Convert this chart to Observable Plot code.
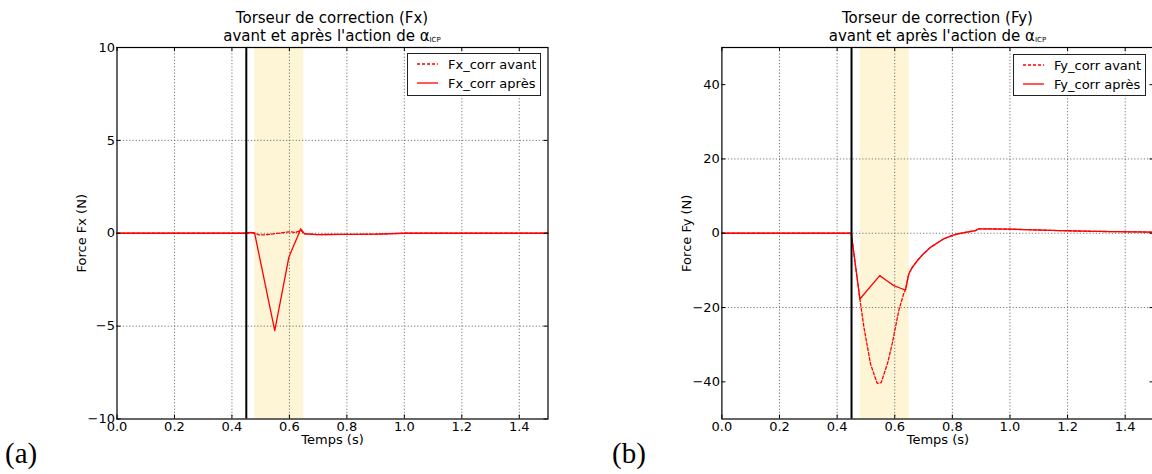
<!DOCTYPE html>
<html><head><meta charset="utf-8">
<script src="https://cdn.jsdelivr.net/npm/d3@7"></script>
<script src="https://cdn.jsdelivr.net/npm/@observablehq/plot@0.6"></script>
<style>
html,body{margin:0;padding:0;overflow:hidden;background:#fff;width:1152px;height:474px;}
#root{position:relative;width:1152px;height:474px;overflow:hidden;font-family:"DejaVu Sans",sans-serif;color:#000;}
.panel{position:absolute;top:0;width:580px;height:474px;}
.plotwrap{position:absolute;left:0;top:40px;}
.title{position:absolute;top:9px;text-align:center;font-size:15px;line-height:18px;white-space:nowrap;}
.title sub{font-size:7px;vertical-align:-1px;}
.legend{position:absolute;box-sizing:border-box;border:1px solid #222;background:#fff;font-size:13px;}
.legend .row{position:absolute;left:0;height:16px;display:flex;align-items:center;white-space:nowrap;}
.legend svg{margin-left:9px;margin-right:10px;}
.tag{position:absolute;font-family:"Liberation Serif","DejaVu Serif",serif;font-size:29px;line-height:30px;}
</style></head>
<body><div id="root"></div>
<script>
// ---- data ----
const xTicks = [0, 0.2, 0.4, 0.6, 0.8, 1.0, 1.2, 1.4];
const xDomain = [0, 1.5];
const shadeStart = 0.48, shadeEnd = 0.65;
const eventTime = 0.45;

// Panel (a): Fx
const fxTicks = [-10, -5, 0, 5, 10];
const fxAvantT = [0, 0.45, 0.47, 0.48, 0.494, 0.52, 0.546, 0.586, 0.605, 0.621, 0.64, 0.653, 0.70, 0.90, 1.0, 1.5];
const fxAvantV = [0, 0, 0.03, 0, -0.09, -0.08, -0.03, 0.05, 0.08, 0.04, 0.15, -0.03, -0.07, -0.05, 0, 0];
const fxApresT = [0, 0.45, 0.465, 0.479, 0.549, 0.575, 0.598, 0.615, 0.628, 0.639, 0.653, 0.70, 0.90, 1.0, 1.5];
const fxApresV = [0, 0, 0.05, 0, -5.24, -3.15, -1.3, -0.66, -0.2, 0.24, -0.03, -0.07, -0.05, 0, 0];

// Panel (b): Fy
const fyTicks = [-40, -20, 0, 20, 40];
const fyAvantT = [0, 0.449, 0.479, 0.493, 0.516, 0.539, 0.553, 0.575, 0.591, 0.614, 0.63, 0.637, 0.649, 0.66, 0.678, 0.70, 0.724, 0.75, 0.77, 0.80, 0.817, 0.85, 0.88, 0.892, 1.0, 1.175, 1.3, 1.5];
const fyAvantV = [0, 0, -17.7, -25.3, -35.2, -40.4, -40.2, -35.0, -29.8, -20.8, -16.5, -15.3, -10.9, -9.3, -7.4, -5.5, -3.8, -2.5, -1.5, -0.6, -0.2, 0.3, 0.7, 1.2, 1.1, 0.7, 0.5, 0.3];
const fyApresT = [0, 0.449, 0.479, 0.548, 0.575, 0.597, 0.62, 0.637, 0.649, 0.66, 0.678, 0.70, 0.724, 0.75, 0.77, 0.80, 0.817, 0.85, 0.88, 0.892, 1.0, 1.175, 1.3, 1.5];
const fyApresV = [0, 0, -17.7, -11.4, -12.9, -14.1, -14.8, -15.3, -10.9, -9.3, -7.4, -5.5, -3.8, -2.5, -1.5, -0.6, -0.2, 0.3, 0.7, 1.2, 1.1, 0.7, 0.5, 0.3];

const panels = [
  {left: 0, ml: 116.5, mr: 32.5, yDomain: [-10, 10], yTicks: fxTicks, yLabel: "Force Fx (N)",
   name: "Fx", avantT: fxAvantT, avantV: fxAvantV, apresT: fxApresT, apresV: fxApresV,
   legend: {left: 407, top: 53, width: 134, height: 43}, tag: "(a)", tagLeft: 5},
  {left: 600, ml: 121.4, mr: 26.5, yDomain: [-50, 50], yTicks: fyTicks, yLabel: "Force Fy (N)",
   name: "Fy", avantT: fyAvantT, avantV: fyAvantV, apresT: fyApresT, apresV: fyApresV,
   legend: {left: 413, top: 54, width: 133, height: 42}, tag: "(b)", tagLeft: 12}
];

const W = 580, H = 420, MT = 7, MB = 41.5;
const root = document.getElementById("root");
const red = "#ff0000";
const gridStyle = {stroke: "#666", strokeOpacity: 1, strokeWidth: 0.9, strokeDasharray: "1.2,2"};

for (const p of panels) {
  const div = document.createElement("div");
  div.className = "panel";
  div.style.left = p.left + "px";
  root.appendChild(div);

  const plotW = W - p.ml - p.mr, plotH = H - MT - MB;
  const title = document.createElement("div");
  title.className = "title";
  title.style.left = p.ml + "px";
  title.style.width = plotW + "px";
  title.innerHTML = `Torseur de correction (${p.name})<br>avant et après l'action de α<sub>ICP</sub>`;
  div.appendChild(title);

  const avant = p.avantT.map((t, i) => [t, p.avantV[i]]);
  const apres = p.apresT.map((t, i) => [t, p.apresV[i]]);

  const chart = Plot.plot({
    width: W, height: H,
    marginLeft: p.ml, marginRight: p.mr, marginTop: MT, marginBottom: MB,
    style: {fontFamily: "DejaVu Sans, sans-serif", fontSize: "13px", background: "transparent", overflow: "visible", color: "#000"},
    x: {domain: xDomain},
    y: {domain: p.yDomain},
    marks: [
      Plot.rect([{x1: shadeStart, x2: shadeEnd}], {x1: "x1", x2: "x2", fill: "#fdf5d5"}),
      Plot.gridX(xTicks.slice(1), gridStyle),
      Plot.gridY(p.yTicks.slice(1, -1), gridStyle),
      Plot.line(avant, {stroke: red, strokeWidth: 1.3, strokeDasharray: "3,2"}),
      Plot.line(apres, {stroke: red, strokeWidth: 1.3}),
      Plot.ruleX([eventTime], {stroke: "#000", strokeWidth: 2}),
      Plot.tickX(xTicks, {x: d => d, stroke: "#000", insetTop: plotH - 4}),
      Plot.tickX(xTicks, {x: d => d, stroke: "#000", insetBottom: plotH - 4}),
      Plot.tickY(p.yTicks, {y: d => d, stroke: "#000", insetRight: plotW - 4}),
      Plot.tickY(p.yTicks, {y: d => d, stroke: "#000", insetLeft: plotW - 4}),
      Plot.frame({stroke: "#000", strokeWidth: 1.2}),
      Plot.axisX(xTicks, {tickSize: 0, tickPadding: 3, tickFormat: d3.format(".1f"), label: "Temps (s)", labelAnchor: "center", labelOffset: 25, labelArrow: "none"}),
      Plot.axisY(p.yTicks, {tickSize: 0, tickPadding: 2, tickFormat: d3.format("d"), label: p.yLabel, labelAnchor: "center", labelOffset: 40, labelArrow: "none"})
    ]
  });
  const wrap = document.createElement("div");
  wrap.className = "plotwrap";
  wrap.appendChild(chart);
  div.appendChild(wrap);

  const lg = document.createElement("div");
  lg.className = "legend";
  Object.assign(lg.style, {left: p.legend.left + "px", top: p.legend.top + "px", width: p.legend.width + "px", height: p.legend.height + "px"});
  const rows = [
    {label: `${p.name}_corr avant`, dash: "3,2", top: 2},
    {label: `${p.name}_corr après`, dash: null, top: 21}
  ];
  for (const r of rows) {
    const row = document.createElement("div");
    row.className = "row";
    row.style.top = r.top + "px";
    row.innerHTML = `<svg width="21" height="4"><line x1="0" x2="21" y1="2" y2="2" stroke="${red}" stroke-width="1.3" ${r.dash ? `stroke-dasharray="${r.dash}"` : ""}/></svg><span>${r.label}</span>`;
    lg.appendChild(row);
  }
  div.appendChild(lg);

  const tag = document.createElement("div");
  tag.className = "tag";
  tag.style.left = p.tagLeft + "px";
  tag.style.top = "438px";
  tag.textContent = p.tag;
  div.appendChild(tag);
}
</script>
</body></html>
